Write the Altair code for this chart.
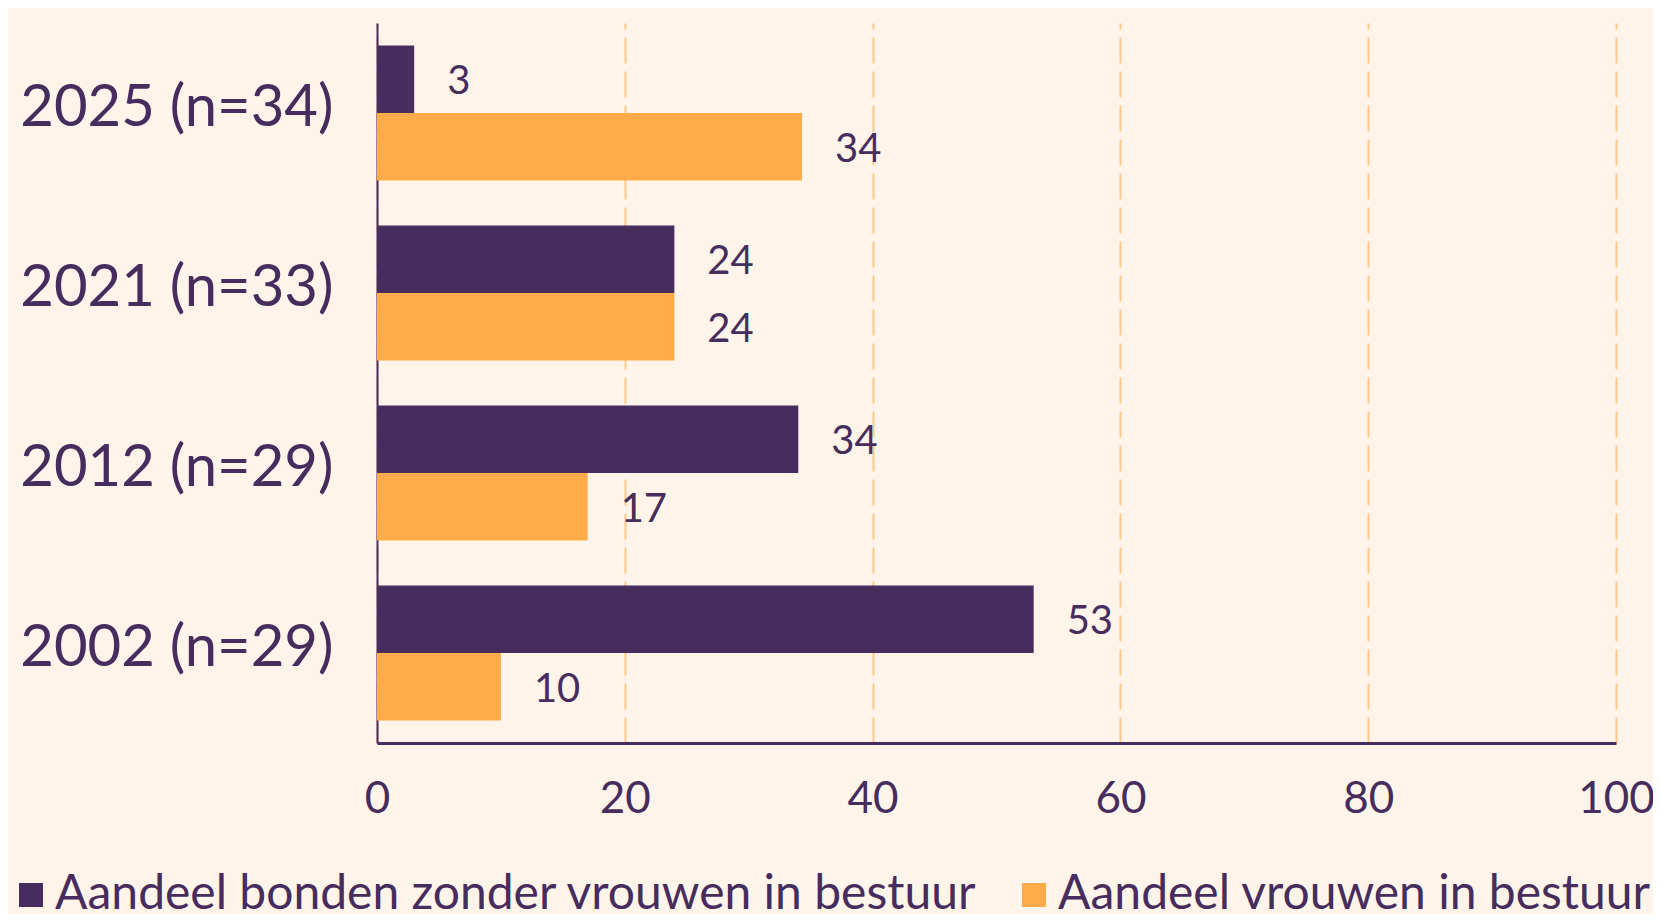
import altair as alt
import pandas as pd

years = ["2025 (n=34)", "2021 (n=33)", "2012 (n=29)", "2002 (n=29)"]
series = ["Aandeel bonden zonder vrouwen in bestuur", "Aandeel vrouwen in bestuur"]
zonder = [3, 24, 34, 53]
vrouwen = [34.3, 24, 17, 10]
x_ticks = [0, 20, 40, 60, 80, 100]

PURPLE = "#472C5E"
ORANGE = "#FFAB4A"
BG = "#FFF4EA"
GRID = "#FFC98C"

rows = []
for i, y in enumerate(years):
    rows.append({"jaar": y, "reeks": series[0], "waarde": zonder[i]})
    rows.append({"jaar": y, "reeks": series[1], "waarde": vrouwen[i]})
df = pd.DataFrame(rows)

y_enc = alt.Y("jaar:N", sort=years,
              scale=alt.Scale(paddingInner=0.25, paddingOuter=0.125),
              axis=alt.Axis(title=None, ticks=False, labelFontSize=58, labelColor=PURPLE,
                            labelFont="Lato", labelPadding=44, labelOffset=-4,
                            domainColor=PURPLE, domainWidth=2, labelLimit=400))
yoff = alt.YOffset("reeks:N", sort=series)
x_enc = alt.X("waarde:Q", scale=alt.Scale(domain=[0, 100], nice=False),
              axis=alt.Axis(title=None, values=x_ticks, ticks=False, labelFontSize=44,
                            labelColor=PURPLE, labelFont="Lato", labelPadding=34,
                            labelFlush=False,
                            domainColor=PURPLE, domainWidth=3,
                            grid=True, gridColor=GRID, gridDash=[26, 8], gridWidth=2))

bars = alt.Chart(df).mark_bar().encode(
    y=y_enc, yOffset=yoff, x=x_enc,
    color=alt.Color("reeks:N", sort=series,
                    scale=alt.Scale(domain=series, range=[PURPLE, ORANGE]),
                    legend=alt.Legend(title=None, orient="none", direction="horizontal",
                                      legendX=-370, legendY=848, symbolType="square",
                                      symbolSize=576, symbolStrokeWidth=0,
                                      labelFontSize=48, labelFont="Lato", labelColor=PURPLE,
                                      labelOffset=0, columnPadding=32, padding=0,
                                      labelLimit=1200, symbolOpacity=1)),
)

labels = alt.Chart(df).mark_text(align="left", baseline="middle", dx=33, dy=3, fontSize=40,
                                 font="Lato", color=PURPLE).encode(
    y=alt.Y("jaar:N", sort=years), yOffset=yoff, x="waarde:Q",
    text=alt.Text("waarde:Q", format=".0f"),
)

chart = (bars + labels).properties(
    width=1239, height=720, background=BG,
    padding={"left": 369, "top": 15, "right": 37, "bottom": 171},
    autosize=alt.AutoSizeParams(type="none"),
).configure_view(stroke=None)

chart.save("out.html", embed_options={"renderer": "svg", "actions": False})
